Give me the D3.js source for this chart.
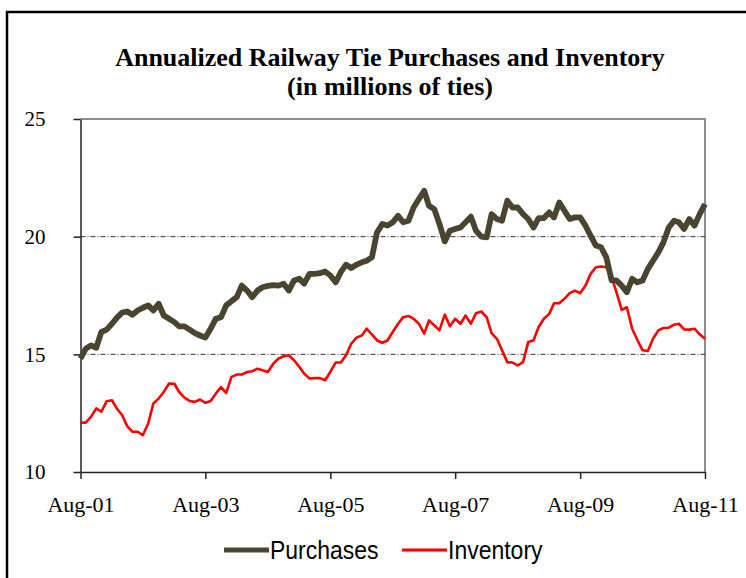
<!DOCTYPE html>
<html>
<head>
<meta charset="utf-8">
<script src="https://cdn.jsdelivr.net/npm/d3@7"></script>
<style>
  body { margin: 0; background: #fff; }
  svg { display: block; }
</style>
</head>
<body>
<div id="container"></div>
<script>
let w = 746;
let h = 578;

// monthly series, Aug-01 .. Aug-11 (millions of ties)
let startMonth = new Date(2001, 7, 1);
let purchases = [
  14.82, 15.24, 15.38, 15.28, 15.95, 16.05, 16.3, 16.55, 16.77, 16.82, 16.68, 16.86,
  16.98, 17.08, 16.86, 17.15, 16.65, 16.51, 16.37, 16.19, 16.19, 16.05, 15.9, 15.8,
  15.71, 16.09, 16.51, 16.58, 17.08, 17.26, 17.43, 17.92, 17.71, 17.43, 17.71, 17.85,
  17.91, 17.94, 17.92, 18.0, 17.71, 18.14, 18.21, 18.0, 18.42, 18.42, 18.45, 18.52,
  18.35, 18.06, 18.49, 18.81, 18.67, 18.81, 18.91, 18.98, 19.12, 20.18, 20.54, 20.47,
  20.61, 20.89, 20.61, 20.68, 21.24, 21.6, 21.95, 21.31, 21.17, 20.54, 19.8, 20.25,
  20.33, 20.39, 20.61, 20.85, 20.25, 20.0, 19.97, 20.96, 20.75, 20.68, 21.53, 21.24,
  21.24, 20.96, 20.75, 20.39, 20.79, 20.79, 21.03, 20.82, 21.45, 21.1, 20.75, 20.82,
  20.82, 20.47, 20.04, 19.62, 19.55, 19.12, 18.14, 18.14, 17.92, 17.64, 18.21, 18.06,
  18.14, 18.63, 18.98, 19.33, 19.76, 20.39, 20.68, 20.61, 20.33, 20.75, 20.47, 20.96,
  21.38
];
let inventory = [
  12.1, 12.1, 12.34, 12.7, 12.56, 13.01, 13.05, 12.7, 12.42, 11.95, 11.71, 11.71,
  11.57, 12.06, 12.91, 13.12, 13.4, 13.76, 13.75, 13.4, 13.16, 13.02, 12.98, 13.08,
  12.94, 13.02, 13.33, 13.61, 13.36, 14.04, 14.14, 14.14, 14.25, 14.28, 14.39, 14.32,
  14.25, 14.6, 14.82, 14.92, 14.96, 14.75, 14.46, 14.18, 13.97, 13.99, 13.99, 13.9,
  14.25, 14.65, 14.65, 14.96, 15.45, 15.71, 15.8, 16.09, 15.85, 15.59, 15.49, 15.59,
  15.95, 16.3, 16.58, 16.63, 16.51, 16.3, 15.88, 16.44, 16.23, 16.02, 16.69, 16.19,
  16.51, 16.3, 16.65, 16.3, 16.75, 16.82, 16.58, 15.9, 15.66, 15.17, 14.67, 14.65,
  14.53, 14.67, 15.52, 15.59, 16.16, 16.51, 16.72, 17.17, 17.17, 17.36, 17.6, 17.71,
  17.6, 17.92, 18.42, 18.7, 18.73, 18.7, 18.28, 17.64, 16.89, 17.0, 16.09, 15.62,
  15.17, 15.14, 15.66, 16.02, 16.12, 16.13, 16.26, 16.3, 16.06, 16.05, 16.09, 15.85,
  15.66
];
let yTicks = [10, 15, 20, 25];
let gridValues = [15, 20];
let xTickLabels = ["Aug-01", "Aug-03", "Aug-05", "Aug-07", "Aug-09", "Aug-11"];
let seriesNames = ["Purchases", "Inventory"];
let titleLines = ["Annualized Railway Tie Purchases and Inventory", "(in millions of ties)"];

let purchColor = "#4a4530";
let invColor = "#ff0000";

let plotLeft = 80.5, plotRight = 705, plotTop = 119, plotBottom = 472;

let viz = d3.select("#container").append("svg")
    .attr("width", w)
    .attr("height", h)
    .style("background-color", "#fff");

// outer frame (cut off at right and bottom like the source)
viz.append("rect")
    .attr("x", 7).attr("y", 12)
    .attr("width", 800).attr("height", 700)
    .attr("fill", "none")
    .attr("stroke", "#000")
    .attr("stroke-width", 2.5);

let monthDate = i => d3.timeMonth.offset(startMonth, i);
let xTickDates = xTickLabels.map((d, i) => d3.timeMonth.offset(startMonth, i * 24));

let x = d3.scaleTime()
    .domain([startMonth, monthDate(purchases.length - 1)])
    .range([plotLeft, plotRight]);
let y = d3.scaleLinear().domain([10, 25]).range([plotBottom, plotTop]);

// title
viz.selectAll(".title").data(titleLines).enter()
  .append("text")
    .attr("class", "title")
    .attr("x", 390)
    .attr("y", (d, i) => 66 + i * 29)
    .attr("text-anchor", "middle")
    .attr("font-family", "Liberation Serif, Times New Roman, serif")
    .attr("font-weight", "bold")
    .attr("font-size", 26)
    .text(d => d);

// plot frame, top and right in gray
viz.append("path")
    .attr("d", `M${plotLeft},${plotTop}H${plotRight}V${plotBottom}`)
    .attr("fill", "none")
    .attr("stroke", "#8c8c8c")
    .attr("stroke-width", 2);

// gridlines
viz.selectAll(".grid").data(gridValues).enter()
  .append("line")
    .attr("class", "grid")
    .attr("x1", plotLeft).attr("x2", plotRight)
    .attr("y1", d => y(d)).attr("y2", d => y(d))
    .attr("stroke", "#333")
    .attr("stroke-width", 1)
    .attr("stroke-dasharray", "5,2,1,2");

// y axis
let yAxis = d3.axisLeft(y).tickValues(yTicks).tickSize(7).tickSizeOuter(0).tickPadding(28);
let gy = viz.append("g").attr("transform", `translate(${plotLeft},0)`).call(yAxis);
gy.select(".domain").attr("stroke", "#222").attr("stroke-width", 1.5);
gy.selectAll(".tick line").attr("stroke", "#222").attr("stroke-width", 1.5);
gy.selectAll(".tick text")
    .attr("font-family", "Liberation Serif, Times New Roman, serif")
    .attr("font-size", 21)
    .attr("fill", "#000");

// x axis
let xAxis = d3.axisBottom(x).tickValues(xTickDates).tickFormat((d, i) => xTickLabels[i])
    .tickSize(7).tickSizeOuter(0).tickPadding(17);
let gx = viz.append("g").attr("transform", `translate(0,${plotBottom})`).call(xAxis);
gx.select(".domain").attr("stroke", "#222").attr("stroke-width", 1.5);
gx.selectAll(".tick line").attr("stroke", "#222").attr("stroke-width", 1.5);
gx.selectAll(".tick text")
    .attr("font-family", "Liberation Serif, Times New Roman, serif")
    .attr("font-size", 22)
    .attr("fill", "#000");

// lines
let lineMaker = d3.line()
    .x((d, i) => x(monthDate(i)))
    .y(d => y(d));

viz.append("path")
    .datum(inventory)
    .attr("d", lineMaker)
    .attr("fill", "none")
    .attr("stroke", invColor)
    .attr("stroke-width", 2.6)
    .attr("stroke-linejoin", "round");

viz.append("path")
    .datum(purchases)
    .attr("d", lineMaker)
    .attr("fill", "none")
    .attr("stroke", purchColor)
    .attr("stroke-width", 5.8)
    .attr("stroke-linejoin", "round");

// legend
let legendX = [224, 402];
let legend = viz.selectAll(".legend").data(seriesNames).enter()
  .append("g")
    .attr("class", "legend")
    .attr("transform", (d, i) => `translate(${legendX[i]},550)`);
legend.append("line")
    .attr("x1", 0).attr("x2", 45)
    .attr("stroke", (d, i) => i == 0 ? purchColor : invColor)
    .attr("stroke-width", (d, i) => i == 0 ? 5 : 3);
legend.append("text")
    .attr("transform", "translate(46,9) scale(1,1.12)")
    .attr("font-family", "Liberation Sans, Arial, sans-serif")
    .attr("font-size", 23)
    .text(d => d);
</script>
</body>
</html>
